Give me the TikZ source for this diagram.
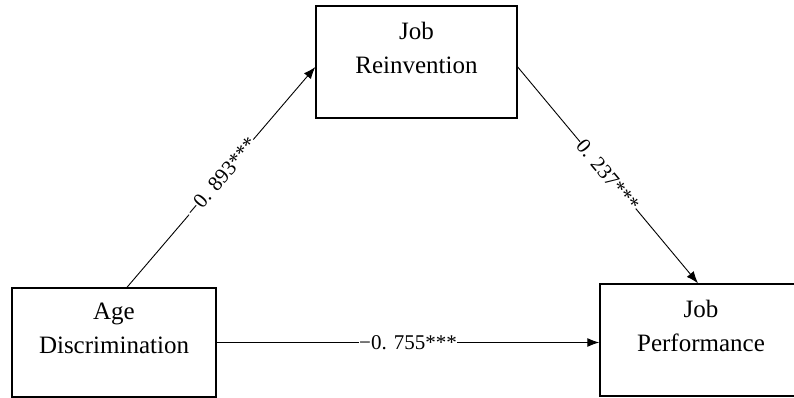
\documentclass[tikz,border=0pt]{standalone}
\usepackage{fontspec}
\setmainfont{Liberation Serif}
\usetikzlibrary{arrows.meta}

\begin{document}
\begin{tikzpicture}[x=1pt,y=1pt,
  var/.style={draw, line width=1.4pt, minimum width=#1, inner sep=0pt},
  vartext/.style={align=center, font=\fontsize{25}{34}\selectfont},
  path/.style={line width=0.9pt, -{Latex[length=12pt,width=9pt]}},
  coef/.style={midway, sloped, fill=white, inner sep=0.5pt, font=\fontsize{21}{24}\selectfont}]

  \useasboundingbox (0,0) rectangle (794,398);

  \node[var=201pt, minimum height=112pt] (reinv) at (416.5,336) {};
  \node[var=204pt, minimum height=109pt] (age) at (114,55.5) {};
  \node[var=202pt, minimum height=112pt] (perf) at (701,58) {};

  \node[vartext] (reinv_t) at ([yshift=14pt]reinv.center) {Job\\Reinvention};
  \node[vartext] (age_t) at ([yshift=14pt]age.center) {Age\\Discrimination};
  \node[vartext] (perf_t) at ([yshift=14pt]perf.center) {Job\\Performance};

  \draw[path] ([xshift=13pt]age.north) -- ([yshift=-5pt]reinv.west)
    node[coef] {−0. 893***};
  \draw[path] ([yshift=-5pt]reinv.east) -- ([xshift=-3pt]perf.north)
    node[coef] {0. 237***};
  \draw[path] (age.east) -- (age.east -| perf.west)
    node[coef] {−0. 755***};

\end{tikzpicture}
\end{document}
